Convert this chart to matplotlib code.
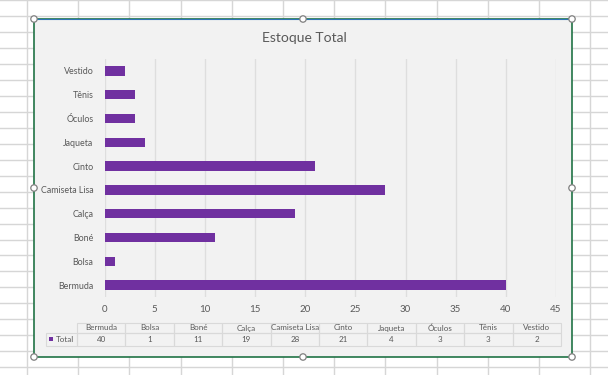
import matplotlib.pyplot as plt
from matplotlib.patches import Rectangle, Circle

categorias = ['Bermuda', 'Bolsa', 'Boné', 'Calça', 'Camiseta Lisa',
              'Cinto', 'Jaqueta', 'Óculos', 'Tênis', 'Vestido']
totais = [40, 1, 11, 19, 28, 21, 4, 3, 3, 2]
serie = 'Total'
titulo = 'Estoque Total'
x_ticks = [0, 5, 10, 15, 20, 25, 30, 35, 40, 45]

W, H = 608, 375
plt.rcParams['font.family'] = ['Lato', 'DejaVu Sans']
txt = '#595959'

fig = plt.figure(figsize=(W / 100, H / 100), dpi=100, facecolor='white')

# planilha ao fundo (coordenadas em pixels)
bg = fig.add_axes([0, 0, 1, 1])
bg.set_xlim(0, W)
bg.set_ylim(H, 0)
bg.axis('off')
x = 27
while x < W:
    bg.axvline(x, color='#d6d6d6', lw=1)
    x += 51.2
y = 0.3
while y < H:
    bg.axhline(y, color='#d6d6d6', lw=1)
    y += 15.95

# area do grafico
L, R, T, B = 34, 572, 19, 357
bg.add_patch(Rectangle((L, T), R - L, B - T, facecolor='#f2f2f2',
                       edgecolor='#217346', lw=1.2, zorder=2))
bg.plot([L, R], [T, T], color='#2e75b6', lw=0.8, zorder=3)
for hx, hy in [(L, T), ((L + R) / 2, T), (R, T), (L, (T + B) / 2),
               (R, (T + B) / 2), (L, B), ((L + R) / 2, B), (R, B)]:
    bg.add_patch(Circle((hx, hy), 3.2, facecolor='white',
                        edgecolor='#7f7f7f', lw=0.9, zorder=4))

bg.text((L + R) / 2 + 1, 38, titulo, ha='center', va='center', fontsize=10,
        color=txt, zorder=5)

# tabela de dados
tl, tr = 77, 561
cw = (tr - tl) / len(categorias)
r0, r1, r2 = 322.5, 332.5, 346
lc = '#d9d9d9'
for i, (c, v) in enumerate(zip(categorias, totais)):
    cx = tl + i * cw
    bg.add_patch(Rectangle((cx, r0), cw, r1 - r0, fill=False, edgecolor=lc,
                           lw=0.8, zorder=3))
    bg.add_patch(Rectangle((cx, r1), cw, r2 - r1, fill=False, edgecolor=lc,
                           lw=0.8, zorder=3))
    bg.text(cx + cw / 2, (r0 + r1) / 2 + 0.5, c, ha='center', va='center',
            fontsize=5.8, color=txt, zorder=5)
    bg.text(cx + cw / 2, (r1 + r2) / 2 + 0.5, str(v), ha='center',
            va='center', fontsize=5.8, color=txt, zorder=5)
bg.add_patch(Rectangle((46, r1), tl - 46, r2 - r1, fill=False, edgecolor=lc,
                       lw=0.8, zorder=3))
bg.add_patch(Rectangle((49, (r1 + r2) / 2 - 2), 4, 4, facecolor='#7030a0',
                       zorder=5))
bg.text(55.5, (r1 + r2) / 2 + 0.5, serie, ha='left', va='center',
        fontsize=5.8, color=txt, zorder=5)

# grafico de barras
px0, px1, py0, py1 = 104.5, 556, 59, 297
ax = fig.add_axes([px0 / W, 1 - py1 / H, (px1 - px0) / W, (py1 - py0) / H])
ax.set_facecolor('none')
pos = range(len(categorias))
ax.barh(pos, totais, height=0.4, color='#7030a0', zorder=3)
ax.set_xlim(0, 45)
ax.set_ylim(-0.5, len(categorias) - 0.5)
ax.set_xticks(x_ticks)
ax.set_yticks(list(pos))
ax.set_yticklabels(categorias)
ax.tick_params(length=0, colors=txt)
ax.tick_params(axis='x', pad=6, labelsize=7)
ax.tick_params(axis='y', pad=8, labelsize=6.4)
ax.grid(axis='x', color='#dedede', lw=1, zorder=0)
for s in ax.spines.values():
    s.set_visible(False)

fig.savefig('out.png', dpi=100, facecolor='white')
